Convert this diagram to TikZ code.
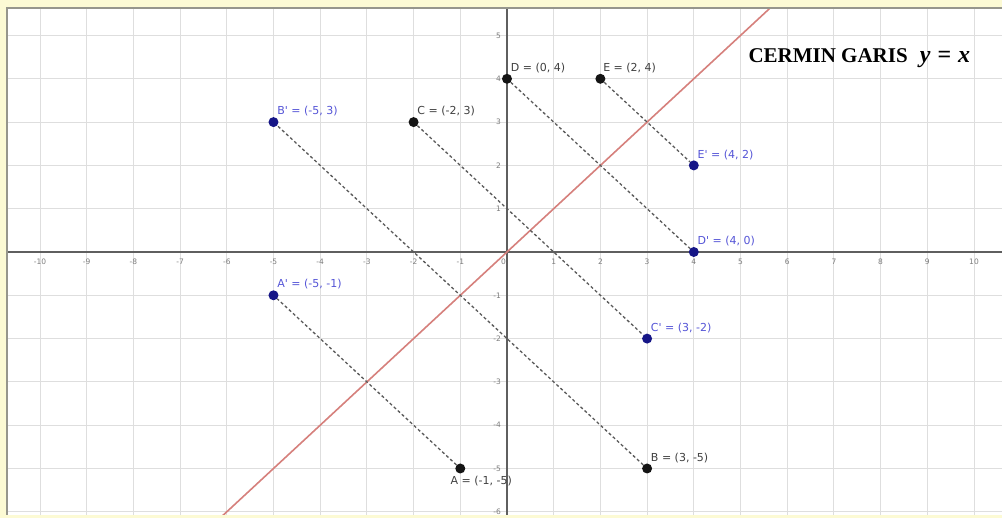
\documentclass[tikz,border=0pt]{standalone}
\usepackage{fontspec}
\setmainfont{DejaVu Sans}
\newfontfamily\titlefont{Liberation Serif}
\usepackage{tikz}
\usetikzlibrary{positioning}
\definecolor{gridgray}{RGB}{222,222,222}
\definecolor{axisgray}{RGB}{95,95,95}
\definecolor{paneledge}{RGB}{150,150,140}
\definecolor{panelyellow}{RGB}{252,250,212}
\definecolor{mirrorred}{RGB}{214,128,124}
\definecolor{imgblue}{RGB}{22,22,135}
\definecolor{imglabel}{RGB}{85,85,215}
\definecolor{ticklabel}{RGB}{125,125,125}

\begin{document}
\begin{tikzpicture}[
    x=46.7pt, y=43.3pt,
    dot/.style={circle, fill=black!92, inner sep=0pt, minimum size=10pt},
    imgdot/.style={dot, fill=imgblue},
    lbl/.style={font=\fontsize{11}{12}\selectfont, text=black!75, inner sep=1pt},
    imglbl/.style={lbl, text=imglabel},
    tick/.style={font=\fontsize{7.5}{8}\selectfont, text=ticklabel, inner sep=1pt},
    mirror/.style={color=black!65, line width=1.3pt, dash pattern=on 3pt off 2.5pt}
  ]
    \useasboundingbox[fill=panelyellow] (-507pt,-266pt) rectangle (495pt,252pt);
    \fill[white] (-500pt,-263pt) rectangle (497pt,244pt);

    \begin{scope}
      \clip (-500pt,-263pt) rectangle (495pt,244pt);
      \draw[gridgray, line width=0.9pt, step={(1,1)}] (-11,-7) grid (11,6);
      \draw[axisgray, line width=1.2pt] (-11,0) -- (11,0) (0,-7) -- (0,6);
      \draw[mirrorred, line width=1.6pt] (-7,-7) -- (7,7);
    \end{scope}
    \draw[paneledge, line width=1.6pt] (497pt,244pt) -- (-500pt,244pt) -- (-500pt,-263pt);

    \foreach \i in {-10,...,-1,1,2,...,10}
      \node[tick, below] (xt\i) at ([yshift=-6pt]\i,0) {\i};
    \node[tick, below left] (xt0) at ([yshift=-6pt]0,0) {0};
    \foreach \j in {-6,...,-1,1,2,...,5}
      \node[tick, left] (yt\j) at ([xshift=-5pt]0,\j) {\j};

    \node[font=\titlefont\bfseries\fontsize{21}{23}\selectfont, anchor=west] (title)
      at (238pt,194pt) {CERMIN GARIS\hspace{12pt}{\fontsize{24}{26}\selectfont\textit{y}\hspace{7pt}=\hspace{7pt}\textit{x}}};

    \node[dot] (A) at (-1,-5) {};
    \node[dot] (B) at (3,-5) {};
    \node[dot] (C) at (-2,3) {};
    \node[dot] (D) at (0,4) {};
    \node[dot] (E) at (2,4) {};

    \node[imgdot] (Ap) at (-5,-1) {};
    \node[imgdot] (Bp) at (-5,3) {};
    \node[imgdot] (Cp) at (3,-2) {};
    \node[imgdot] (Dp) at (4,0) {};
    \node[imgdot] (Ep) at (4,2) {};

    \node[lbl, below=1pt of A, xshift=21pt] (Albl) {A = (-1, -5)};
    \node[lbl, above right=1pt and -1pt of B] (Blbl) {B = (3, -5)};
    \node[lbl, above right=1pt and -1pt of C] (Clbl) {C = (-2, 3)};
    \node[lbl, above right=1pt and -1pt of D] (Dlbl) {D = (0, 4)};
    \node[lbl, above right=1pt and -2pt of E] (Elbl) {E = (2, 4)};

    \node[imglbl, above right=1pt and -1pt of Ap] (Aplbl) {A\textquotesingle{} = (-5, -1)};
    \node[imglbl, above right=1pt and -1pt of Bp] (Bplbl) {B\textquotesingle{} = (-5, 3)};
    \node[imglbl, above right=1pt and -1pt of Cp] (Cplbl) {C\textquotesingle{} = (3, -2)};
    \node[imglbl, above right=1pt and -1pt of Dp] (Dplbl) {D\textquotesingle{} = (4, 0)};
    \node[imglbl, above right=1pt and -1pt of Ep] (Eplbl) {E\textquotesingle{} = (4, 2)};

    \draw[mirror] (A) -- (Ap);
    \draw[mirror] (B) -- (Bp);
    \draw[mirror] (C) -- (Cp);
    \draw[mirror] (D) -- (Dp);
    \draw[mirror] (E) -- (Ep);
  \end{tikzpicture}
\end{document}
